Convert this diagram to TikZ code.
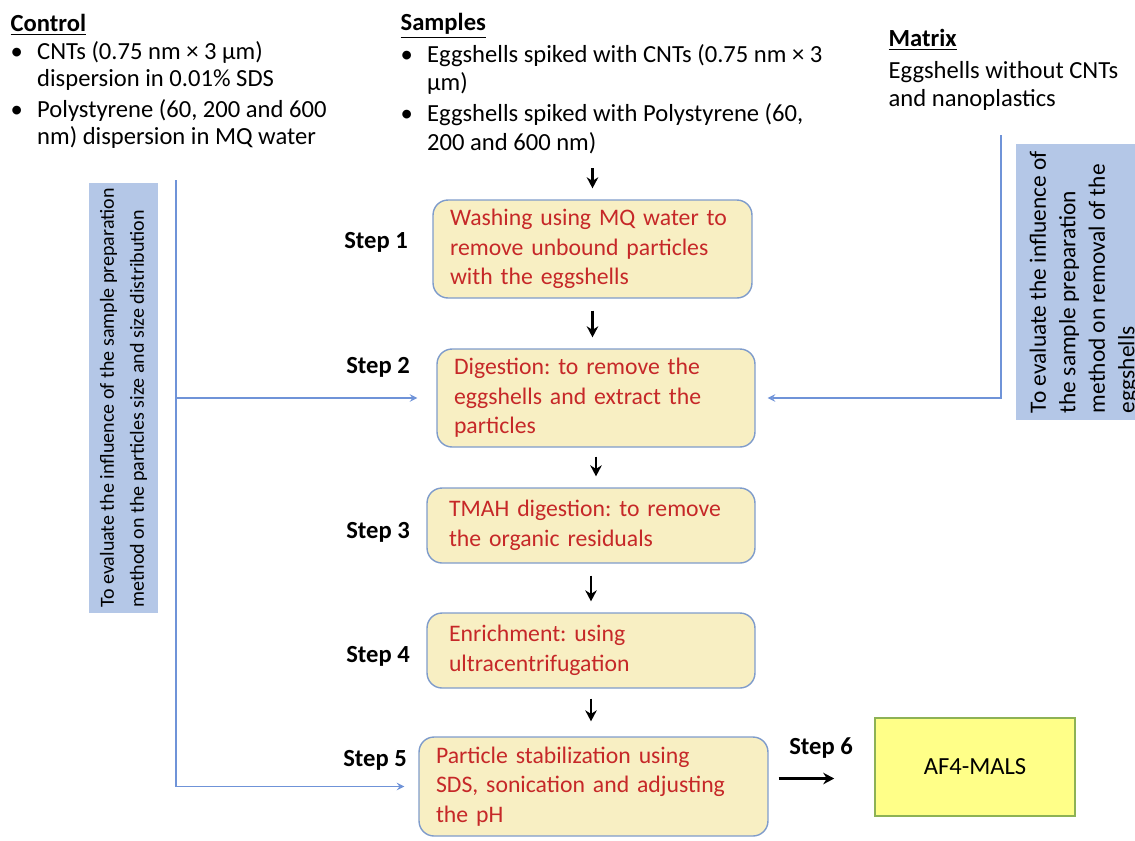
\documentclass[tikz,border=0pt]{standalone}
\usepackage{fontspec}
\setmainfont{Carlito}
\usepackage{tikz}
\usetikzlibrary{positioning,arrows.meta}
\usepackage{xcolor}

\definecolor{boxfill}{HTML}{F8EFC3}
\definecolor{boxline}{HTML}{7F9CCB}
\definecolor{stepred}{HTML}{C62828}
\definecolor{notefill}{HTML}{B4C7E7}
\definecolor{linkblue}{HTML}{6F93D8}
\definecolor{af4fill}{HTML}{FFFF88}
\definecolor{af4line}{HTML}{8DB255}

\newcommand{\bul}{\makebox[0.53cm][l]{\textbullet}}
\newcommand{\ind}{\hspace*{0.53cm}}
\frenchspacing
\hyphenpenalty=10000
\exhyphenpenalty=10000

\begin{document}
\begin{tikzpicture}[x=0.02cm, y=-0.02cm, >=stealth, thick,
    txt/.style={inner sep=0pt, align=left, anchor=north west, font=\fontsize{14}{15.5}\selectfont},
    stepbox/.style={draw=boxline, fill=boxfill, rounded corners=0.3cm, line width=0.8pt, text=stepred, align=left, inner xsep=0.34cm, inner ysep=0pt, font=\fontsize{13.5}{16.8}\selectfont, text width=#1},
    steplbl/.style={font=\bfseries\fontsize{14}{16}\selectfont},
    notebox/.style={fill=notefill, rotate=90, align=left, inner sep=0pt},
    flow/.style={-{Stealth[length=2.2mm, width=2.3mm]}, line width=1.5pt, shorten <=0.24cm, shorten >=0.22cm},
    link/.style={draw=linkblue, line width=0.9pt}]
    \useasboundingbox (0,0) rectangle (1135,840);

    % inputs on top
    \node[txt] (control) at (10,14) {\underline{\textbf{Control}}\\
        \bul CNTs (0.75 nm × 3 µm)\\
        \ind dispersion in 0.01\% SDS\\[2.2pt]
        \bul Polystyrene (60, 200 and 600\\
        \ind nm) dispersion in MQ water};
    \node[txt, font=\fontsize{14}{16}\selectfont] (samples) at (400,13) {\underline{\textbf{Samples}}\\[1.8pt]
        \bul Eggshells spiked with CNTs (0.75 nm × 3\\
        \ind µm)\\[2pt]
        \bul Eggshells spiked with Polystyrene (60,\\
        \ind 200 and 600 nm)};
    \node[txt] (matrix) at (888,29) {\underline{\textbf{Matrix}}\\[2.6pt]
        Eggshells without CNTs\\
        and nanoplastics};

    % preparation steps
    \node[stepbox=5.7cm, minimum height=1.96cm] (wash) at (592.5,249) {Washing using MQ water to\\remove unbound particles\\with the eggshells};
    \node[stepbox=5.68cm, minimum height=1.96cm] (digest) at (596,398) {Digestion: to remove the\\eggshells and extract the\\particles};
    \node[stepbox=5.68cm, inner xsep=0.44cm, minimum height=1.5cm] (tmah) at (591,525.5) {TMAH digestion: to remove\\the organic residuals};
    \node[stepbox=5.68cm, inner xsep=0.44cm, minimum height=1.5cm] (enrich) at (591,650.5) {Enrichment: using\\ultracentrifugation};
    \node[stepbox=6.3cm, minimum height=1.98cm] (stab) at (593.5,786.5) {Particle stabilization using\\SDS, sonication and adjusting\\the pH};
    \node[draw=af4line, fill=af4fill, line width=0.9pt, minimum width=4cm, minimum height=1.96cm, font=\fontsize{14}{16}\selectfont] (af4) at (975,767) {AF4-MALS};

    \node[steplbl] (s1) at (376,242) {Step 1};
    \node[steplbl] (s2) at (378,367) {Step 2};
    \node[steplbl] (s3) at (378,532) {Step 3};
    \node[steplbl] (s4) at (378,656) {Step 4};
    \node[steplbl] (s5) at (375,760) {Step 5};
    \node[steplbl] (s6) at (821,748) {Step 6};

    % notes
    \node[notebox, minimum width=8.6cm, minimum height=1.38cm, font=\fontsize{11.4}{17}\selectfont] (leftnote) at (123.5,398) {To evaluate the influence of the sample preparation\\method on the particles size and size distribution};
    \begin{scope}
        \clip (0,0) rectangle (1135,840);
        \node[notebox, minimum width=5.52cm, minimum height=2.74cm, font=\fontsize{13.3}{16.8}\selectfont] (rightnote) at (1084,282) {To evaluate the influence of\\the sample preparation\\method on removal of the\\eggshells};
    \end{scope}

    \coordinate (ctrltop) at (176,180);
    \coordinate (mtxtop) at (1001,135);

    % main flow
    \draw[flow, shorten <=0.28cm] (wash.north |- samples.south) -- (wash.north);
    \draw[flow] (wash.south) -- (wash.south |- digest.north);
    \draw[flow, shorten <=0.18cm] (digest.south) -- (digest.south |- tmah.north);
    \draw[flow] (tmah.south) -- (tmah.south |- enrich.north);
    \draw[flow, shorten <=0.2cm, shorten >=0.3cm] (enrich.south) -- (enrich.south |- stab.north);
    \draw[flow, line width=2pt, shorten <=0.2cm, shorten >=0.8cm] ([yshift=0.16cm]stab.east) -- ([yshift=0.16cm]stab.east -| af4.west);

    % control and matrix links
    \draw[link, ->, shorten >=0.28cm] (ctrltop) -- (ctrltop |- stab.west) -- (stab.west);
    \draw[link, ->, shorten >=0.38cm] (ctrltop |- digest.west) -- (digest.west);
    \draw[link, ->, shorten >=0.24cm] (mtxtop) -- (mtxtop |- digest.east) -- (digest.east);
\end{tikzpicture}
\end{document}
